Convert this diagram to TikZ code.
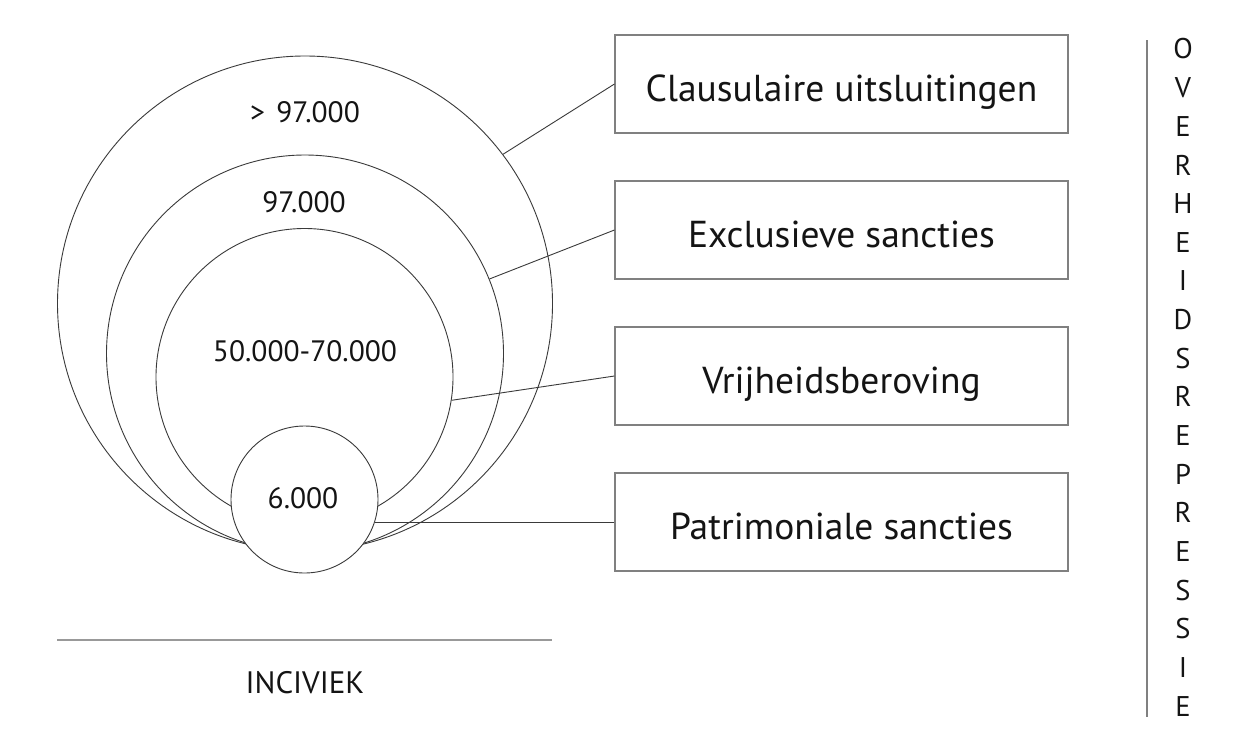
\documentclass[tikz,border=0pt]{standalone}
\usepackage{fontspec}
\setmainfont{PT Sans}
\definecolor{circ}{HTML}{3A3A3A}
\definecolor{boxc}{HTML}{808080}
\definecolor{txt}{HTML}{141414}
\begin{document}
\begin{tikzpicture}[x=1pt,y=-1pt,
  ring/.style={circle,draw=circ,line width=0.9pt,inner sep=0pt},
  conn/.style={draw=circ,line width=0.9pt},
  lbox/.style={draw=boxc,line width=1.1pt,minimum width=453pt,minimum height=98pt,inner sep=0pt,text=txt,text height=34pt,text depth=0pt,font=\fontsize{37.5}{40}\selectfont},
  ctext/.style={text=txt,font=\fontsize{29.5}{32}\selectfont,inner sep=0pt},
  vletter/.style={text=txt,font=\fontsize{28.5}{30}\selectfont,inner sep=0pt}]
\useasboundingbox[fill=white] (0,0) rectangle (1250,753);
% circles
\node[ring,minimum size=495pt] (c1) at (305,303.5) {};
\node[ring,minimum size=397pt] (c2) at (305,353.5) {};
\node[ring,minimum size=297pt] (c3) at (304.5,377) {};
% boxes
\node[lbox] (b1) at (841.5,84) {Clausulaire uitsluitingen};
\node[lbox] (b2) at (841.5,230) {Exclusieve sancties};
\node[lbox] (b3) at (841.5,376) {Vrijheidsberoving};
\node[lbox] (b4) at (841.5,522) {Patrimoniale sancties};
% connectors
\draw[conn] (b1.west) -- (c1.37.4);
\draw[conn] (b2.west) -- (c2.22.6);
\draw[conn] (b3.west) -- (c3.-9.8);
% small circle
\node[ring,fill=white,minimum size=147pt] (c4) at (304.5,499.5) {};
\coordinate (p4) at (374.5,522);
\draw[conn] (b4.west) -- (p4);
% circle labels
\node[ctext] (t1) at (305,112) {>\hspace{0.12em} 97.000};
\node[ctext] (t2) at (304,202) {97.000};
\node[ctext] (t3) at (305,351) {50.000-70.000};
\node[ctext] (t4) at (303,498) {6.000};
% incivism axis
\coordinate (i1) at (57,640);
\coordinate (i2) at (552,640);
\draw[draw=boxc!80!white,line width=1.2pt] (i1) -- (i2);
\node[text=txt,font=\fontsize{31}{33}\selectfont,inner sep=0pt] (inc) at (305,683) {INCIVIEK};
% repression axis
\coordinate (r1) at (1147,40);
\coordinate (r2) at (1147,717);
\draw[draw=boxc,line width=1.1pt] (r1) -- (r2);
\foreach \l [count=\i from 0] in {O,V,E,R,H,E,I,D,S,R,E,P,R,E,S,S,I,E}{
  \node[vletter] (v\i) at (1183,49+38.65*\i) {\l};
}
\end{tikzpicture}
\end{document}
